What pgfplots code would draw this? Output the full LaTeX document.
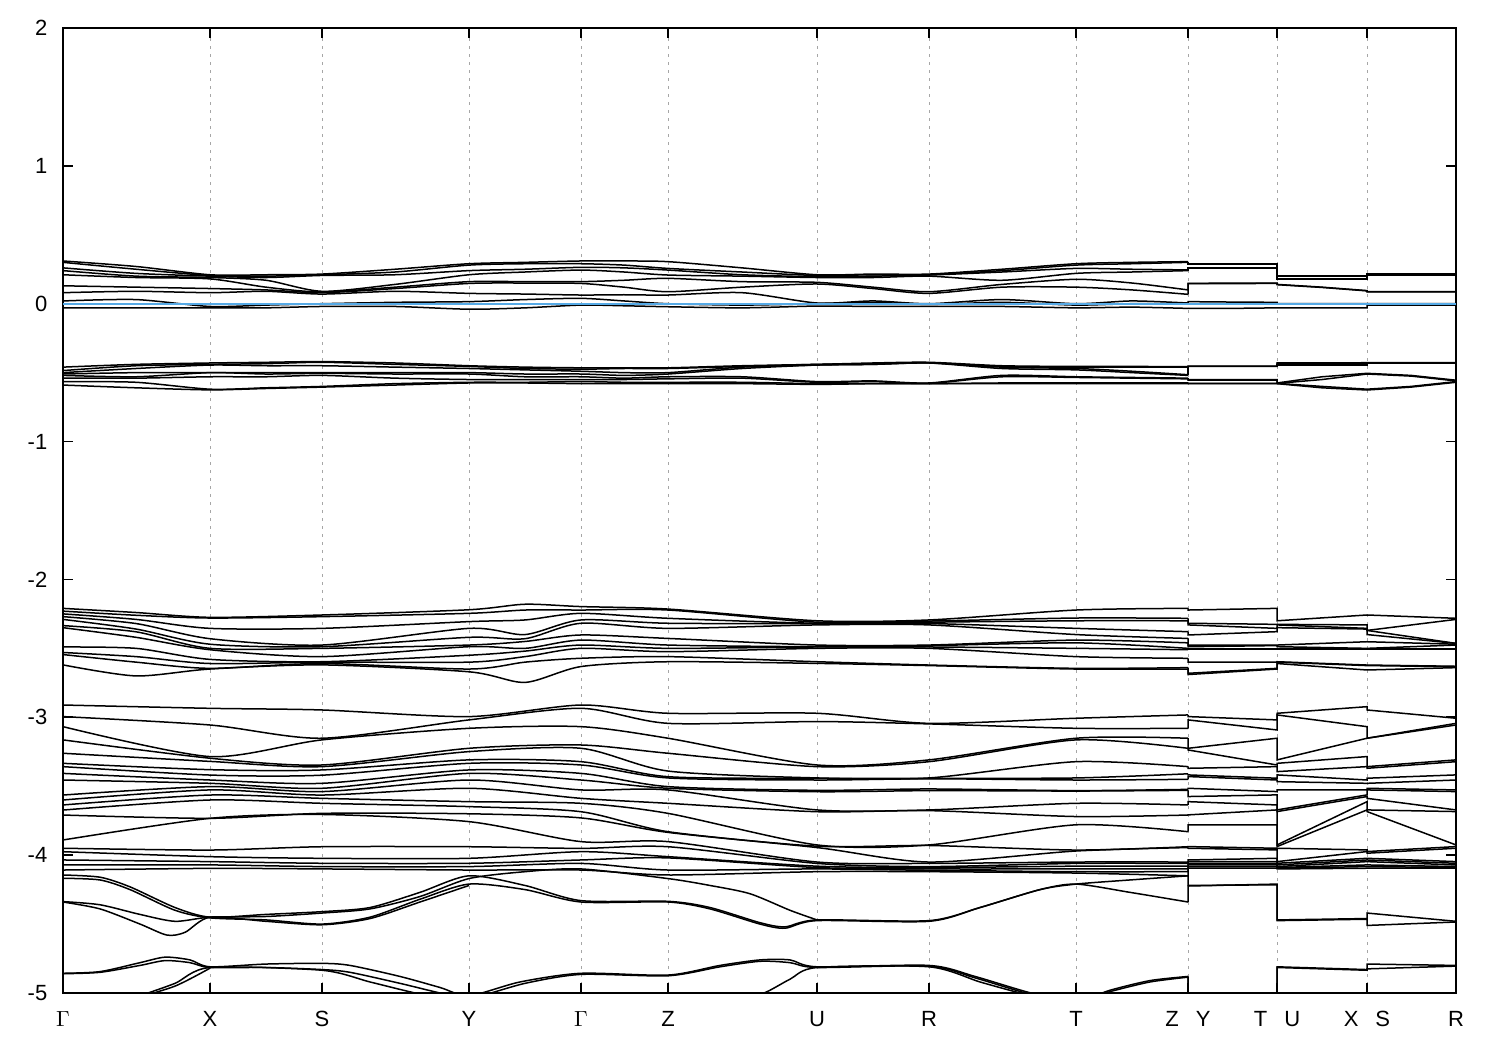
\documentclass[border=0pt]{standalone}
\usepackage{fontspec}
\setmainfont{Liberation Sans}
\usepackage{pgfplots}
\usepackage{pgfplotstable}
\pgfplotsset{compat=1.18}
\definecolor{fermi}{RGB}{86,170,230}
\tikzset{band/.style={black, line width=0.75pt},
  bandc/.style={black, line width=0.75pt, smooth, tension=0.45}}
\pgfplotsset{rows/.style 2 args={x filter/.code={%
  \ifnum\coordindex<#1\relax\def\pgfmathresult{}\fi
  \ifnum\coordindex>#2\relax\def\pgfmathresult{}\fi}}}

% bands near E_F
\pgfplotstableread{
x a1 a2 a3 a4 a5 a6 a7 a8 a9
63 0.31 0.30 0.26 0.24 0.21 0.13 0.08 0.02 -0.03
136 0.27 0.25 0.22 0.20 0.19 0.12 0.09 0.03 -0.03
210 0.21 0.205 0.20 0.19 0.18 0.11 0.08 -0.02 -0.03
266 0.21 0.20 0.19 0.17 0.12 0.10 0.09 -0.01 -0.03
322 0.215 0.21 0.205 0.09 0.085 0.08 0.07 0.0 -0.02
395 0.25 0.23 0.21 0.14 0.12 0.11 0.09 0.01 -0.02
469 0.29 0.28 0.24 0.21 0.16 0.147 0.075 0.015 -0.04
525 0.30 0.29 0.25 0.23 0.16 0.15 0.07 0.03 -0.03
581 0.31 0.29 0.264 0.244 0.16 0.147 0.063 0.039 -0.01
624 0.31 0.28 0.26 0.23 0.17 0.12 0.065 0.02 -0.015
668 0.305 0.256 0.244 0.208 0.184 0.087 0.063 0.0 -0.022
742 0.26 0.23 0.21 0.20 0.16 0.12 0.08 -0.01 -0.03
817 0.21 0.205 0.196 0.19 0.155 0.143 0.005 0.0 -0.017
873 0.215 0.21 0.20 0.19 0.12 0.11 0.02 0.01 -0.02
929 0.215 0.21 0.208 0.20 0.087 0.075 0.0 -0.005 -0.02
1002 0.25 0.24 0.23 0.17 0.14 0.12 0.03 0.01 -0.02
1076 0.29 0.28 0.256 0.22 0.177 0.12 0.0 -0.01 -0.03
1132 0.30 0.29 0.25 0.23 0.15 0.10 0.02 0.0 -0.025
1188 0.305 0.30 0.245 0.24 0.10 0.068 0.005 0.0 -0.034
1188 0.29 0.285 0.26 0.255 0.147 0.145 0.015 0.0 -0.034
1232 0.29 0.285 0.26 0.255 0.15 0.145 0.012 0.0 -0.034
1277 0.29 0.285 0.26 0.255 0.15 0.148 0.01 0.0 -0.03
1277 0.20 0.196 0.18 0.18 0.14 0.138 0.0 -0.005 -0.03
1322 0.20 0.196 0.18 0.18 0.12 0.118 0.0 -0.005 -0.03
1367 0.20 0.196 0.18 0.18 0.095 0.093 0.0 -0.005 -0.03
1367 0.215 0.213 0.205 0.203 0.087 0.085 0.0 -0.005 -0.01
1411 0.215 0.213 0.205 0.203 0.087 0.085 0.0 -0.005 -0.01
1456 0.215 0.213 0.205 0.203 0.087 0.085 0.0 -0.005 -0.01
}\gA

% bands around -0.5
\pgfplotstableread{
x b1 b2 b3 b4 b5 b6 b7 b8
63 -0.46 -0.485 -0.50 -0.51 -0.52 -0.54 -0.565 -0.59
136 -0.44 -0.45 -0.47 -0.50 -0.53 -0.54 -0.57 -0.61
210 -0.43 -0.44 -0.445 -0.50 -0.50 -0.53 -0.62 -0.625
266 -0.425 -0.435 -0.45 -0.50 -0.51 -0.53 -0.61 -0.615
322 -0.42 -0.425 -0.45 -0.50 -0.505 -0.52 -0.60 -0.605
395 -0.43 -0.44 -0.46 -0.50 -0.51 -0.54 -0.58 -0.59
469 -0.45 -0.455 -0.47 -0.50 -0.51 -0.55 -0.57 -0.575
525 -0.46 -0.47 -0.48 -0.51 -0.53 -0.55 -0.57 -0.575
581 -0.465 -0.475 -0.49 -0.51 -0.53 -0.55 -0.565 -0.58
624 -0.465 -0.47 -0.50 -0.52 -0.54 -0.55 -0.57 -0.58
668 -0.465 -0.47 -0.50 -0.51 -0.53 -0.545 -0.57 -0.58
742 -0.45 -0.455 -0.46 -0.47 -0.53 -0.54 -0.57 -0.58
817 -0.44 -0.44 -0.445 -0.445 -0.565 -0.57 -0.58 -0.585
873 -0.43 -0.435 -0.44 -0.44 -0.56 -0.565 -0.58 -0.58
929 -0.425 -0.428 -0.43 -0.43 -0.575 -0.578 -0.58 -0.58
1002 -0.45 -0.455 -0.46 -0.47 -0.52 -0.53 -0.575 -0.58
1076 -0.455 -0.46 -0.47 -0.48 -0.53 -0.535 -0.575 -0.58
1132 -0.455 -0.46 -0.49 -0.50 -0.535 -0.54 -0.575 -0.58
1188 -0.457 -0.46 -0.515 -0.52 -0.54 -0.545 -0.575 -0.58
1188 -0.452 -0.455 -0.455 -0.457 -0.55 -0.555 -0.578 -0.58
1232 -0.452 -0.455 -0.455 -0.457 -0.55 -0.555 -0.578 -0.58
1277 -0.452 -0.455 -0.455 -0.457 -0.55 -0.555 -0.578 -0.58
1277 -0.43 -0.435 -0.445 -0.45 -0.575 -0.578 -0.578 -0.58
1322 -0.43 -0.435 -0.445 -0.45 -0.53 -0.55 -0.60 -0.61
1367 -0.428 -0.43 -0.445 -0.45 -0.505 -0.51 -0.62 -0.626
1367 -0.428 -0.43 -0.43 -0.435 -0.505 -0.51 -0.62 -0.626
1411 -0.428 -0.43 -0.43 -0.435 -0.52 -0.525 -0.60 -0.605
1456 -0.428 -0.43 -0.43 -0.435 -0.555 -0.56 -0.565 -0.57
}\gB

% bands -2.2 .. -2.8
\pgfplotstableread{
x c1 c2 c3 c4 c5 c6 c7 c8 c9 c10 c11
63 -2.21 -2.23 -2.25 -2.27 -2.29 -2.335 -2.35 -2.49 -2.53 -2.545 -2.62
136 -2.24 -2.26 -2.29 -2.32 -2.36 -2.38 -2.42 -2.50 -2.56 -2.60 -2.70
210 -2.275 -2.28 -2.355 -2.43 -2.47 -2.50 -2.51 -2.58 -2.61 -2.645 -2.65
322 -2.258 -2.27 -2.355 -2.476 -2.488 -2.50 -2.56 -2.597 -2.60 -2.61 -2.62
469 -2.22 -2.246 -2.306 -2.355 -2.42 -2.476 -2.488 -2.55 -2.60 -2.65 -2.67
525 -2.18 -2.222 -2.294 -2.40 -2.43 -2.45 -2.50 -2.52 -2.56 -2.60 -2.747
581 -2.197 -2.222 -2.246 -2.294 -2.318 -2.403 -2.44 -2.476 -2.50 -2.572 -2.632
668 -2.215 -2.222 -2.282 -2.318 -2.355 -2.428 -2.476 -2.50 -2.524 -2.56 -2.597
817 -2.30 -2.31 -2.318 -2.32 -2.33 -2.476 -2.488 -2.49 -2.50 -2.597 -2.609
929 -2.294 -2.302 -2.31 -2.32 -2.33 -2.476 -2.48 -2.49 -2.50 -2.621 -2.625
1076 -2.222 -2.28 -2.30 -2.355 -2.40 -2.44 -2.46 -2.50 -2.56 -2.645 -2.65
1188 -2.21 -2.282 -2.30 -2.379 -2.428 -2.46 -2.50 -2.51 -2.572 -2.64 -2.65
1188 -2.222 -2.318 -2.33 -2.403 -2.476 -2.488 -2.50 -2.51 -2.60 -2.681 -2.69
1277 -2.21 -2.326 -2.355 -2.379 -2.476 -2.48 -2.50 -2.51 -2.60 -2.645 -2.65
1277 -2.30 -2.326 -2.33 -2.35 -2.476 -2.488 -2.50 -2.51 -2.597 -2.60 -2.61
1367 -2.258 -2.33 -2.355 -2.36 -2.452 -2.50 -2.50 -2.51 -2.621 -2.625 -2.657
1367 -2.258 -2.37 -2.37 -2.40 -2.452 -2.50 -2.50 -2.51 -2.621 -2.625 -2.657
1456 -2.282 -2.29 -2.464 -2.464 -2.47 -2.476 -2.50 -2.51 -2.63 -2.633 -2.64
}\gC

% bands -2.9 .. -4.15
\pgfplotstableread{
x d1 d2 d3 d4 d5 d6 d7 d8 d9 d10 d11 d12 d13 d14 d15 d16 d17 d18 d19 d20
63 -2.911 -2.995 -3.068 -3.164 -3.261 -3.334 -3.358 -3.407 -3.455 -3.564 -3.600 -3.636 -3.673 -3.709 -3.890 -3.950 -3.975 -4.035 -4.070 -4.108
210 -2.935 -3.056 -3.285 -3.297 -3.320 -3.380 -3.419 -3.455 -3.479 -3.503 -3.527 -3.564 -3.600 -3.733 -3.733 -3.963 -4.011 -4.047 -4.071 -4.096
322 -2.947 -3.152 -3.164 -3.346 -3.358 -3.382 -3.420 -3.479 -3.515 -3.539 -3.564 -3.588 -3.624 -3.697 -3.705 -3.939 -4.023 -4.059 -4.083 -4.100
469 -2.995 -3.019 -3.080 -3.225 -3.249 -3.309 -3.334 -3.382 -3.407 -3.455 -3.515 -3.612 -3.648 -3.700 -3.757 -3.939 -4.023 -4.059 -4.083 -4.108
581 -2.911 -2.935 -3.068 -3.201 -3.225 -3.322 -3.346 -3.407 -3.455 -3.527 -3.588 -3.624 -3.685 -3.730 -3.902 -3.951 -3.975 -4.035 -4.060 -4.108
668 -2.971 -3.044 -3.152 -3.261 -3.390 -3.431 -3.440 -3.503 -3.515 -3.527 -3.624 -3.697 -3.830 -3.835 -3.902 -3.939 -4.011 -4.020 -4.108 -4.144
817 -2.971 -3.031 -3.346 -3.358 -3.440 -3.443 -3.455 -3.530 -3.540 -3.672 -3.685 -3.926 -3.935 -3.945 -4.050 -4.060 -4.080 -4.090 -4.100 -4.120
929 -3.044 -3.048 -3.309 -3.322 -3.440 -3.443 -3.446 -3.520 -3.532 -3.672 -3.677 -3.926 -3.930 -4.050 -4.060 -4.083 -4.090 -4.100 -4.110 -4.120
1076 -3.007 -3.080 -3.152 -3.164 -3.322 -3.440 -3.455 -3.532 -3.535 -3.624 -3.720 -3.780 -3.963 -3.970 -4.050 -4.060 -4.080 -4.100 -4.120 -4.130
1188 -2.983 -3.080 -3.152 -3.225 -3.358 -3.410 -3.450 -3.523 -3.530 -3.636 -3.709 -3.830 -3.939 -3.945 -4.050 -4.060 -4.080 -4.100 -4.120 -4.150
1188 -2.995 -3.019 -3.225 -3.237 -3.370 -3.418 -3.430 -3.515 -3.575 -3.612 -3.708 -3.781 -3.938 -3.950 -4.035 -4.047 -4.059 -4.071 -4.083 -4.095
1277 -3.019 -3.092 -3.152 -3.346 -3.358 -3.442 -3.455 -3.539 -3.563 -3.636 -3.672 -3.781 -3.950 -3.962 -4.023 -4.047 -4.059 -4.071 -4.083 -4.095
1277 -2.971 -2.983 -3.309 -3.334 -3.394 -3.418 -3.467 -3.527 -3.672 -3.684 -3.926 -3.938 -3.950 -4.047 -4.059 -4.071 -4.083 -4.090 -4.095 -4.100
1367 -2.923 -3.068 -3.152 -3.285 -3.358 -3.455 -3.479 -3.527 -3.563 -3.575 -3.612 -3.672 -3.962 -3.974 -4.023 -4.035 -4.047 -4.071 -4.083 -4.095
1367 -2.947 -3.152 -3.152 -3.358 -3.370 -3.442 -3.479 -3.515 -3.527 -3.588 -3.672 -3.684 -3.974 -3.986 -4.023 -4.035 -4.047 -4.071 -4.083 -4.095
1456 -3.007 -3.044 -3.056 -3.309 -3.322 -3.418 -3.455 -3.527 -3.539 -3.672 -3.684 -3.926 -3.938 -3.950 -4.047 -4.059 -4.071 -4.083 -4.090 -4.095
}\gD

\begin{document}
\fontsize{11}{13}\selectfont
\begin{tikzpicture}
\begin{axis}[name=ax,
  width=696.5pt, height=482.5pt, scale only axis,
  xmin=63, xmax=1456, ymin=-5, ymax=2,
  ytick={-5,-4,-3,-2,-1,0,1,2},
  xtick={63,210,322,469,581,668,817,929,1076,1188,1277,1367,1456},
  xticklabels={$\Gamma$,X,S,Y,$\Gamma$,Z,U,R,T,Z\hspace{8.5pt}Y,T\hspace{8.5pt}U,X\hspace{8.5pt}S,R},
  tick align=inside, major tick length=5pt,
  xmajorgrids,
  grid style={gray!70, line width=0.4pt, dash pattern=on 1.5pt off 2.5pt},
  axis line style={line width=0.8pt},
  tick style={black, line width=0.8pt},
  yticklabel style={/pgf/number format/assume math mode=true, xshift=-4pt},
  xticklabel style={yshift=-5pt, text height=8pt, text depth=0pt},
]
% continuous part Gamma..Z drawn smooth, the rest (with jumps) straight
\pgfplotsinvokeforeach{a1,a2,a3,a4,a5,a6,a7,a8,a9}{
  \addplot[bandc, rows={0}{18}] table[x=x,y=#1]{\gA};
  \addplot[band, rows={18}{27}] table[x=x,y=#1]{\gA};}
\pgfplotsinvokeforeach{b1,b2,b3,b4,b5,b6,b7,b8}{
  \addplot[bandc, rows={0}{18}] table[x=x,y=#1]{\gB};
  \addplot[band, rows={18}{27}] table[x=x,y=#1]{\gB};}
\pgfplotsinvokeforeach{c1,c2,c3,c4,c5,c6,c7,c8,c9,c10,c11}{
  \addplot[bandc, rows={0}{11}] table[x=x,y=#1]{\gC};
  \addplot[band, rows={11}{17}] table[x=x,y=#1]{\gC};}
\pgfplotsinvokeforeach{d1,d2,d3,d4,d5,d6,d7,d8,d9,d10,d11,d12,d13,d14,d15,d16,d17,d18,d19,d20}{
  \addplot[bandc, rows={0}{9}] table[x=x,y=#1]{\gD};
  \addplot[band, rows={9}{15}] table[x=x,y=#1]{\gD};}
% bands -4.1 .. -4.6
\addplot[bandc] coordinates {(63,-4.144) (100,-4.16) (130,-4.23) (175,-4.38) (210,-4.45) (266,-4.43) (322,-4.41) (370,-4.38) (420,-4.27) (469,-4.15) (525,-4.22) (581,-4.33) (668,-4.335) (710,-4.38) (760,-4.49) (785,-4.52) (817,-4.47) (929,-4.475) (980,-4.38) (1040,-4.25) (1076,-4.21) (1130,-4.27) (1188,-4.34)};
\addplot[band] coordinates {(1188,-4.34) (1188,-4.224) (1277,-4.21) (1277,-4.47) (1367,-4.46) (1367,-4.42) (1456,-4.48)};
\addplot[bandc] coordinates {(63,-4.168) (100,-4.18) (130,-4.25) (175,-4.40) (210,-4.455) (266,-4.47) (322,-4.50) (370,-4.45) (420,-4.32) (469,-4.21) (525,-4.25) (581,-4.34) (668,-4.34) (710,-4.39) (760,-4.50) (785,-4.53) (817,-4.475) (929,-4.48) (980,-4.38) (1040,-4.25) (1076,-4.21) (1130,-4.18) (1188,-4.15)};
\addplot[band] coordinates {(1188,-4.15) (1188,-4.22) (1277,-4.215) (1277,-4.475) (1367,-4.465) (1367,-4.51) (1456,-4.485)};
\addplot[bandc] coordinates {(63,-4.337) (100,-4.36) (140,-4.43) (175,-4.48) (210,-4.45) (266,-4.445) (322,-4.42) (370,-4.39) (420,-4.30) (469,-4.17) (525,-4.12) (581,-4.10) (668,-4.17) (710,-4.22) (750,-4.28) (790,-4.40) (817,-4.47)};
\addplot[bandc] coordinates {(63,-4.34) (100,-4.39) (140,-4.50) (167,-4.58) (185,-4.56) (210,-4.45) (266,-4.48) (322,-4.505) (370,-4.46) (420,-4.34) (469,-4.22)};
% bands below -4.7
\addplot[bandc] coordinates {(63,-4.857) (100,-4.845) (140,-4.78) (165,-4.74) (190,-4.76) (210,-4.81) (266,-4.79) (322,-4.785) (350,-4.80) (400,-4.88) (440,-4.96) (469,-5.02) (520,-4.92) (581,-4.857) (668,-4.87) (720,-4.80) (760,-4.76) (790,-4.76) (817,-4.81) (929,-4.80) (975,-4.88) (1031,-5.0) (1076,-5.06) (1110,-4.98) (1150,-4.91) (1188,-4.88)};
\addplot[band] coordinates {(1188,-4.88) (1188,-5.1) (1277,-5.1) (1277,-4.81) (1367,-4.83) (1367,-4.79) (1456,-4.80)};
\addplot[bandc] coordinates {(63,-4.86) (100,-4.85) (140,-4.80) (165,-4.765) (190,-4.78) (210,-4.815) (266,-4.815) (322,-4.83) (350,-4.85) (400,-4.93) (440,-5.0) (469,-5.04) (525,-4.93) (581,-4.865) (668,-4.875) (720,-4.81) (760,-4.77) (790,-4.78) (817,-4.815) (929,-4.805) (975,-4.89) (1031,-5.01) (1076,-5.06) (1110,-4.99) (1150,-4.92) (1188,-4.885)};
\addplot[band] coordinates {(1188,-4.885) (1188,-5.1) (1277,-5.1) (1277,-4.815) (1367,-4.835) (1367,-4.825) (1456,-4.805)};
\addplot[bandc] coordinates {(140,-5.02) (175,-4.93) (210,-4.815) (322,-4.835) (370,-4.92) (415,-5.0) (450,-5.05)};
\addplot[bandc] coordinates {(130,-5.05) (175,-4.95) (210,-4.82)};
\addplot[bandc] coordinates {(735,-5.05) (764,-5.0) (790,-4.90) (817,-4.815) (929,-4.81) (980,-4.92) (1020,-5.0) (1050,-5.05)};
% Fermi level
\addplot[fermi, line width=0.8pt] coordinates {(63,0) (1456,0)};
\end{axis}
\path ([xshift=-31.5pt,yshift=-28.5pt]ax.south west) rectangle ([xshift=22pt,yshift=14pt]ax.north east);
\end{tikzpicture}
\end{document}
